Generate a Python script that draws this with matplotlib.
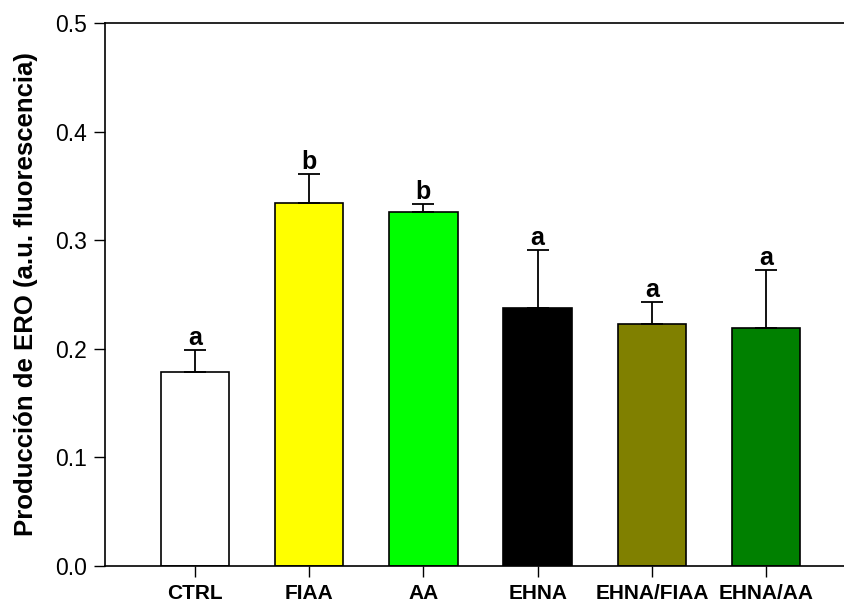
import matplotlib.pyplot as plt
import numpy as np

plt.rcParams['font.family'] = ['Liberation Sans', 'DejaVu Sans']

groups = ["CTRL", "FIAA", "AA", "EHNA", "EHNA/FIAA", "EHNA/AA"]
means = [0.179, 0.334, 0.326, 0.238, 0.223, 0.219]
errors = [0.020, 0.027, 0.007, 0.053, 0.020, 0.054]
letters = ["a", "b", "b", "a", "a", "a"]
colors = ["#FFFFFF", "#FFFF00", "#00FF00", "#000000", "#808000", "#008000"]

fig = plt.figure(figsize=(8.45, 6.02), dpi=100)
ax = fig.add_axes([105/845, 36/602, 740/845, 543/602])

x = np.arange(len(groups))
ax.bar(x, means, width=0.6, color=colors, edgecolor="black", linewidth=1.2, zorder=2)
ax.errorbar(x, means, yerr=[np.zeros(len(means)), errors], fmt="none",
            ecolor="black", elinewidth=1.3, capsize=8, capthick=1.3, zorder=3)

for xi, m, e, lab in zip(x, means, errors, letters):
    ax.annotate(lab, (xi, m + e), xytext=(0, 0), textcoords="offset points",
                ha="center", va="bottom", fontsize=18, fontweight="bold")

ax.set_xlim(-0.787, 5.69)
ax.set_ylim(0, 0.5)
ax.set_yticks([0.0, 0.1, 0.2, 0.3, 0.4, 0.5])
ax.set_yticklabels(["0.0", "0.1", "0.2", "0.3", "0.4", "0.5"], fontsize=16.5)
ax.set_xticks(x)
ax.set_xticklabels(groups, fontsize=15, fontweight="bold")
ax.tick_params(axis="both", direction="out", length=8, width=1)
ax.tick_params(axis="x", pad=5)
ax.tick_params(axis="y", pad=5)
ax.spines["right"].set_visible(False)
for s in ["left", "bottom", "top"]:
    ax.spines[s].set_linewidth(1.2)
ax.set_ylabel("Producción de ERO (a.u. fluorescencia)", fontsize=18.5, fontweight="bold", labelpad=12)

fig.savefig("out.png", dpi=100)
